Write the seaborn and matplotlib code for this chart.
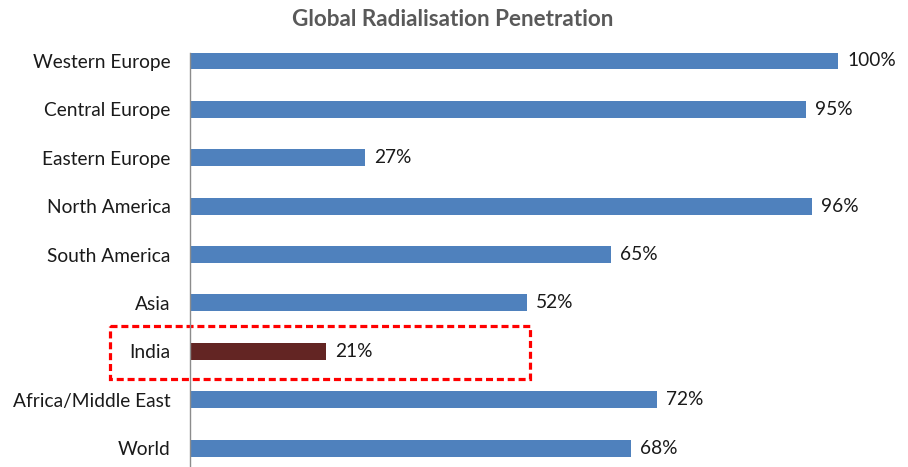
import matplotlib
matplotlib.use("Agg")
import matplotlib.pyplot as plt
import seaborn as sns
import pandas as pd
from matplotlib.patches import Rectangle

regions = ["Western Europe", "Central Europe", "Eastern Europe", "North America",
           "South America", "Asia", "India", "Africa/Middle East", "World"]
penetration = [100, 95, 27, 96, 65, 52, 21, 72, 68]
highlight = "India"

BLUE = "#4F81BD"
MAROON = "#632523"

sns.set_theme(style="white")
plt.rcParams["font.family"] = ["Lato", "DejaVu Sans"]

df = pd.DataFrame({"region": regions, "value": penetration})
palette = {r: (MAROON if r == highlight else BLUE) for r in regions}

fig = plt.figure(figsize=(9.08, 4.67), dpi=100)
ax = fig.add_axes([190 / 908, 0.0, (903 - 190) / 908, 414 / 467])

sns.barplot(data=df, x="value", y="region", hue="region", palette=palette,
            order=regions, orient="h", width=0.35, legend=False, ax=ax,
            edgecolor="none", saturation=1)

ax.set_xlim(0, 110)
ax.set_ylim(8.39, -0.165)
ax.set_xlabel("")
ax.set_ylabel("")
ax.set_xticks([])
ax.tick_params(axis="y", length=0, pad=14, labelsize=13.8, labelcolor="#1a1a1a")

for s in ["top", "right", "bottom"]:
    ax.spines[s].set_visible(False)
ax.spines["left"].set_color("#8c8c8c")
ax.spines["left"].set_linewidth(1.0)

for i, v in enumerate(penetration):
    ax.text(v + 1.4, i, f"{v}%", va="center", ha="left", fontsize=13.8,
            color="#1a1a1a")

# dashed highlight frame around the India row
idx = regions.index(highlight)
box = Rectangle((-12.35, idx - 0.52), 64.85, 1.09, fill=False,
                edgecolor="#FF0000", linewidth=2.3, linestyle=(0, (2.2, 1.2)),
                clip_on=False)
ax.add_patch(box)

fig.text(453 / 908, 1 - 20 / 467, "Global Radialisation Penetration",
         ha="center", va="center", fontsize=16.2, fontweight="bold",
         color="#595959")

fig.savefig("out.png", dpi=100)
